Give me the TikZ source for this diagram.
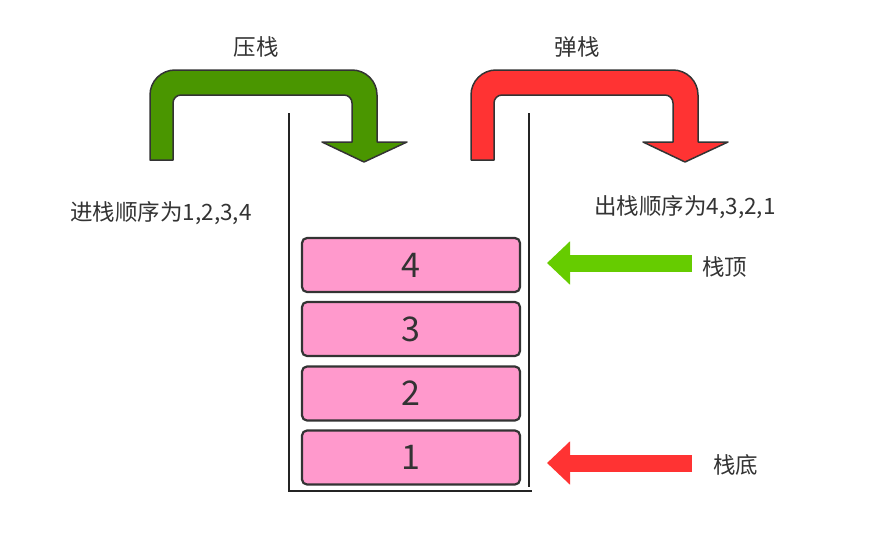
\documentclass[tikz,border=0pt]{standalone}
\usepackage{fontspec}
\setmainfont{Noto Sans CJK SC}
\usepackage{tikz}
\usetikzlibrary{arrows.meta,positioning}

\definecolor{pushgreen}{HTML}{4A9600}
\definecolor{popred}{HTML}{FF3333}
\definecolor{topgreen}{HTML}{66CC00}
\definecolor{boxpink}{HTML}{FF99CC}
\definecolor{edgegray}{HTML}{333333}

\tikzset{
	bent/.style={draw=edgegray, line width=1.5pt, line join=round},
	elem/.style={draw=edgegray, fill=boxpink, line width=2.2pt, rounded corners=5pt,
		minimum width=218pt, minimum height=54pt, inner sep=0pt,
		font=\fontsize{34}{34}\selectfont, text=edgegray},
	lbl/.style={font=\fontsize{22.5}{22.5}\selectfont, text=edgegray, inner sep=0pt},
	ptr/.style={line width=17pt, -{Triangle[length=23pt,width=42pt]}},
}

% bent block arrow, #1 = x shift, #2 = fill
\newcommand\bentarrow[2]{%
	\draw [bent, fill=#2, shift={(#1,0)}]
		(150,160) [rounded corners=25pt] -- (150,70) -- (377,70)
		[sharp corners] -- (377,142) -- (407,142) -- (364,162) -- (322,142) -- (352,142)
		[rounded corners=8pt] -- (352,95) -- (173,95) [sharp corners] -- (173,160) -- cycle;
}

\begin{document}
\begin{tikzpicture}[x=1pt, y=-1pt, >=latex]
	\useasboundingbox (0,0) rectangle (870,554);
%	\draw [help lines, step=50] (0,0) grid (870,554);
	\bentarrow{0}{pushgreen}
	\bentarrow{321}{popred}
	\node [lbl] (push) at (256,47) {压栈};
	\node [lbl] (pop) at (577,47) {弹栈};
	\node [lbl] (inorder) at (161,213) {进栈顺序为1,2,3,4};
	\node [lbl] (outorder) at (685,207) {出栈顺序为4,3,2,1};

	% the stack
	\draw [line width=2pt, edgegray!70!black] (289,113) -- (289,491) -- (532,491);
	\draw [line width=2pt, edgegray!70!black] (529,113) -- (529,487);
	\foreach \n/\y in {1/457.5, 2/393.5, 3/329, 4/265}
		\node [elem] (b\n) at (411,\y) {\n};

	% top and bottom pointers
	\node [lbl, anchor=west] (top) at (702,267) {栈顶};
	\node [lbl, anchor=west] (bottom) at (713,465) {栈底};
	\coordinate (topstart) at (692,263);
	\coordinate (toptip) at (547,263);
	\coordinate (botstart) at (692,463);
	\coordinate (bottip) at (547,463);
	\draw [ptr, topgreen] (topstart) -- (toptip);
	\draw [ptr, popred] (botstart) -- (bottip);
\end{tikzpicture}
\end{document}
